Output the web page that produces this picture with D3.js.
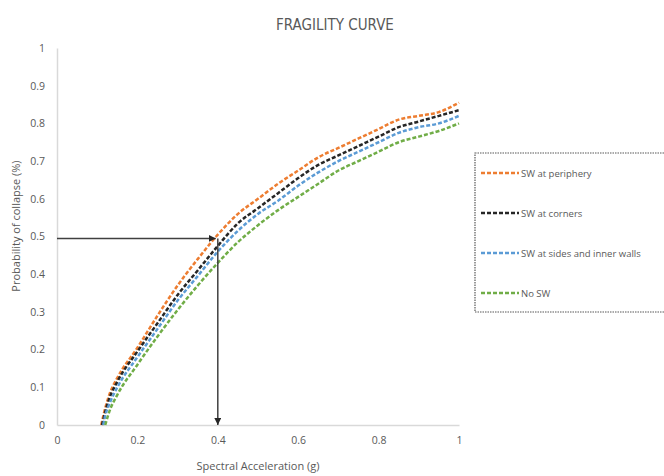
<!DOCTYPE html>
<html>
<head>
<meta charset="utf-8">
<title>Fragility Curve</title>
<script src="https://d3js.org/d3.v7.min.js"></script>
<style>
body { margin: 0; background: #fff; }
text { font-family: 'Open Sans', sans-serif; fill: #595959; }
</style>
</head>
<body>
<script>
// values
var seriesNames = ["SW at periphery", "SW at corners", "SW at sides and inner walls", "No SW"];
var seriesColors = ["#ED7D31", "#262626", "#5B9BD5", "#70AD47"];

var xPeriphery = [0.11, 0.12, 0.13, 0.15, 0.2, 0.25, 0.3, 0.35, 0.4, 0.45, 0.5, 0.55, 0.6, 0.65, 0.7, 0.75, 0.8, 0.85, 0.9, 0.95, 1.0];
var yPeriphery = [0, 0.045, 0.08, 0.125, 0.205, 0.29, 0.37, 0.44, 0.505, 0.56, 0.6, 0.64, 0.675, 0.71, 0.735, 0.76, 0.785, 0.81, 0.82, 0.83, 0.855];

var xCorners = [0.112, 0.12, 0.13, 0.15, 0.2, 0.25, 0.3, 0.35, 0.4, 0.45, 0.5, 0.55, 0.6, 0.65, 0.7, 0.75, 0.8, 0.85, 0.9, 0.95, 1.0];
var yCorners = [0, 0.035, 0.07, 0.115, 0.195, 0.27, 0.345, 0.41, 0.475, 0.535, 0.575, 0.615, 0.655, 0.69, 0.715, 0.74, 0.765, 0.79, 0.805, 0.82, 0.835];

var xSides = [0.115, 0.12, 0.13, 0.15, 0.2, 0.25, 0.3, 0.35, 0.4, 0.45, 0.5, 0.55, 0.6, 0.65, 0.7, 0.75, 0.8, 0.85, 0.9, 0.95, 1.0];
var ySides = [0, 0.025, 0.055, 0.1, 0.18, 0.255, 0.33, 0.395, 0.46, 0.515, 0.56, 0.595, 0.635, 0.67, 0.7, 0.725, 0.75, 0.775, 0.79, 0.8, 0.82];

var xNoSW = [0.12, 0.13, 0.15, 0.2, 0.25, 0.3, 0.35, 0.4, 0.45, 0.5, 0.55, 0.6, 0.65, 0.7, 0.75, 0.8, 0.85, 0.9, 0.95, 1.0];
var yNoSW = [0, 0.035, 0.08, 0.16, 0.235, 0.305, 0.37, 0.43, 0.485, 0.53, 0.57, 0.605, 0.64, 0.675, 0.7, 0.725, 0.75, 0.765, 0.78, 0.8];

var xTicks = [0, 0.2, 0.4, 0.6, 0.8, 1];
var yTicks = [0, 0.1, 0.2, 0.3, 0.4, 0.5, 0.6, 0.7, 0.8, 0.9, 1];

// reading arrows: Pf = 0.5 -> Sa = 0.4
var arrowPf = 0.495;
var arrowSa = 0.4;

var w = 664, h = 476;
var mLeft = 57, mRight = 459, mTop = 48, mBottom = 425;

var svg = d3.select("body").append("svg")
  .attr("width", w)
  .attr("height", h);

var x = d3.scaleLinear().domain([0, 1]).range([mLeft, mRight]);
var y = d3.scaleLinear().domain([0, 1]).range([mBottom, mTop]);

var seriesData = [
  d3.zip(xPeriphery, yPeriphery),
  d3.zip(xCorners, yCorners),
  d3.zip(xSides, ySides),
  d3.zip(xNoSW, yNoSW)
];

// title
svg.append("text")
  .attr("x", 335).attr("y", 30)
  .attr("text-anchor", "middle")
  .style("font-family", "'DejaVu Sans Condensed', 'DejaVu Sans', sans-serif")
  .style("font-stretch", "condensed")
  .style("font-size", "15px")
  .text("FRAGILITY CURVE");

// axes (Excel style: light lines, no ticks)
var xAxis = svg.append("g")
  .attr("transform", "translate(0," + mBottom + ")")
  .call(d3.axisBottom(x).tickValues(xTicks).tickSize(0).tickPadding(12).tickFormat(d3.format("~g")));
var yAxis = svg.append("g")
  .attr("transform", "translate(" + mLeft + ",0)")
  .call(d3.axisLeft(y).tickValues(yTicks).tickSize(0).tickPadding(12).tickFormat(d3.format("~g")));

[xAxis, yAxis].forEach(function(g) {
  g.select(".domain").attr("stroke", "#d9d9d9").attr("stroke-width", 1.5);
  g.selectAll("text").style("font-size", "10.5px").attr("fill", "#595959")
    .style("font-family", "'Open Sans', sans-serif");
});

// axis titles
svg.append("text")
  .attr("x", 258).attr("y", 470)
  .attr("text-anchor", "middle")
  .style("font-size", "11px")
  .text("Spectral Acceleration (g)");

svg.append("text")
  .attr("transform", "translate(20,226) rotate(-90)")
  .attr("text-anchor", "middle")
  .style("font-size", "11px")
  .text("Probability of collapse (%)");

// curves
var line = d3.line()
  .x(function(d){ return x(d[0]); })
  .y(function(d){ return y(d[1]); })
  .curve(d3.curveMonotoneX);

svg.append("g")
  .selectAll("path")
  .data(seriesData)
  .enter()
  .append("path")
  .attr("d", line)
  .attr("fill", "none")
  .attr("stroke", function(d, i){ return seriesColors[i]; })
  .attr("stroke-width", 2.5)
  .attr("stroke-dasharray", "4,2");

// arrows
var defs = svg.append("defs");
defs.append("marker")
  .attr("id", "arrowhead")
  .attr("viewBox", "0 0 10 10")
  .attr("refX", 10).attr("refY", 5)
  .attr("markerWidth", 7).attr("markerHeight", 7)
  .attr("markerUnits", "userSpaceOnUse")
  .attr("orient", "auto")
  .append("path")
  .attr("d", "M0,0 L10,5 L0,10 Z")
  .attr("fill", "#262626");

svg.append("line")
  .attr("x1", x(0)).attr("y1", y(arrowPf))
  .attr("x2", x(arrowSa) - 2).attr("y2", y(arrowPf))
  .attr("stroke", "#404040").attr("stroke-width", 1.5)
  .attr("marker-end", "url(#arrowhead)");

svg.append("line")
  .attr("x1", x(arrowSa)).attr("y1", y(arrowPf))
  .attr("x2", x(arrowSa)).attr("y2", y(0))
  .attr("stroke", "#404040").attr("stroke-width", 1.5)
  .attr("marker-end", "url(#arrowhead)");

// legend
var legend = svg.append("g");
legend.append("rect")
  .attr("x", 475).attr("y", 153)
  .attr("width", 200).attr("height", 159)
  .attr("fill", "#fff")
  .attr("stroke", "#595959")
  .attr("stroke-width", 1.2)
  .attr("stroke-dasharray", "1.5,1");

var item = legend.selectAll(".item")
  .data(seriesNames)
  .enter()
  .append("g")
  .attr("class", "item")
  .attr("transform", function(d, i){ return "translate(481," + (173 + i * 40) + ")"; });

item.append("line")
  .attr("x1", 0).attr("x2", 38)
  .attr("stroke", function(d, i){ return seriesColors[i]; })
  .attr("stroke-width", 2.5)
  .attr("stroke-dasharray", "4,2");

item.append("text")
  .attr("x", 40).attr("y", 3.5)
  .style("font-size", "9.5px")
  .text(function(d){ return d; });
</script>
</body>
</html>
